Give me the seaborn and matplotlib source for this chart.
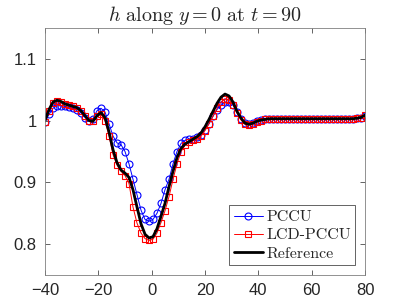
import numpy as np
import matplotlib.pyplot as plt
import seaborn as sns
import pandas as pd

# grid positions along y = 0
x = np.arange(-40, 80.01, 1.5)

reference = [1.000, 1.018, 1.030, 1.033, 1.031, 1.027, 1.025, 1.023, 1.021, 1.016,
             1.008, 1.000, 0.999, 1.008, 1.013, 1.005, 0.982, 0.953, 0.932, 0.920,
             0.915, 0.908, 0.888, 0.860, 0.833, 0.816, 0.810, 0.812, 0.825, 0.845,
             0.866, 0.893, 0.918, 0.940, 0.955, 0.962, 0.966, 0.970, 0.974, 0.980,
             0.990, 1.002, 1.015, 1.028, 1.038, 1.043, 1.040, 1.030, 1.015, 1.004,
             0.996, 0.994, 0.996, 0.999, 1.001, 1.002, 1.003, 1.003, 1.003, 1.003,
             1.003, 1.003, 1.003, 1.003, 1.003, 1.003, 1.003, 1.003, 1.003, 1.003,
             1.003, 1.003, 1.003, 1.003, 1.003, 1.003, 1.003, 1.003, 1.004, 1.005,
             1.009]

pccu = [0.998, 1.010, 1.020, 1.024, 1.024, 1.023, 1.022, 1.020, 1.018, 1.013,
        1.005, 1.000, 1.003, 1.016, 1.020, 1.014, 0.995, 0.975, 0.964, 0.961,
        0.950, 0.930, 0.905, 0.880, 0.855, 0.840, 0.837, 0.840, 0.850, 0.866,
        0.888, 0.905, 0.930, 0.950, 0.963, 0.968, 0.970, 0.971, 0.973, 0.977,
        0.985, 0.995, 1.007, 1.018, 1.026, 1.030, 1.030, 1.025, 1.014, 1.003,
        0.996, 0.994, 0.996, 0.999, 1.001, 1.002, 1.003, 1.003, 1.003, 1.003,
        1.003, 1.003, 1.003, 1.003, 1.003, 1.003, 1.003, 1.003, 1.003, 1.003,
        1.003, 1.003, 1.003, 1.003, 1.003, 1.003, 1.003, 1.003, 1.004, 1.005,
        1.008]

lcd_pccu = [0.998, 1.015, 1.028, 1.031, 1.030, 1.027, 1.025, 1.023, 1.021, 1.016,
            1.007, 1.000, 0.999, 1.007, 1.010, 1.000, 0.975, 0.945, 0.928, 0.918,
            0.911, 0.898, 0.860, 0.834, 0.818, 0.809, 0.806, 0.808, 0.818, 0.835,
            0.854, 0.877, 0.905, 0.930, 0.950, 0.960, 0.965, 0.968, 0.970, 0.975,
            0.984, 0.995, 1.007, 1.020, 1.030, 1.035, 1.034, 1.026, 1.012, 1.001,
            0.994, 0.993, 0.995, 0.998, 1.000, 1.002, 1.003, 1.003, 1.003, 1.003,
            1.003, 1.003, 1.003, 1.003, 1.003, 1.003, 1.003, 1.003, 1.003, 1.003,
            1.003, 1.003, 1.003, 1.003, 1.003, 1.003, 1.003, 1.003, 1.004, 1.005,
            1.009]

df = pd.DataFrame({'x': x, 'PCCU': pccu, 'LCD-PCCU': lcd_pccu, 'Reference': reference})

sns.set_theme(style='ticks')
plt.rcParams['font.family'] = ['Liberation Sans', 'DejaVu Sans']
plt.rcParams['mathtext.fontset'] = 'cm'

fig = plt.figure(figsize=(3.93, 3.06), dpi=100)
ax = fig.add_axes([0.1145, 0.1013, 0.8143, 0.8072])

sns.lineplot(data=df, x='x', y='PCCU', ax=ax, color='#0000ff', lw=0.7,
             marker='o', markersize=5, markerfacecolor='none',
             markeredgecolor='#0000ff', markeredgewidth=0.8, label='PCCU')
sns.lineplot(data=df, x='x', y='LCD-PCCU', ax=ax, color='#ff0000', lw=0.7,
             marker='s', markersize=4.5, markerfacecolor='none',
             markeredgecolor='#ff0000', markeredgewidth=0.8, label='LCD-PCCU')
sns.lineplot(data=df, x='x', y='Reference', ax=ax, color='black', lw=2,
             label='Reference')

ax.set_xlim(-40, 80)
ax.set_ylim(0.75, 1.15)
ax.set_xticks([-40, -20, 0, 20, 40, 60, 80])
ax.set_yticks([0.8, 0.9, 1.0, 1.1])
ax.set_yticklabels(['0.8', '0.9', '1', '1.1'])
ax.set_xlabel('')
ax.set_ylabel('')
ax.tick_params(direction='in', top=True, right=True, length=3.5, width=0.5,
               colors='#262626', labelsize=12, pad=6)
for s in ax.spines.values():
    s.set_linewidth(0.6)
    s.set_color('#808080')

ax.set_title(r'$h\ \mathrm{along}\ y=0\ \mathrm{at}\ t=90$', fontsize=14.5, pad=5)

leg = ax.legend(loc='lower right', prop={'family': 'cmr10', 'size': 11.5},
                fancybox=False, framealpha=1, edgecolor='#262626',
                handlelength=1.8, handletextpad=0.2, borderpad=0.3,
                labelspacing=0.25, borderaxespad=0.6)
leg.get_frame().set_linewidth(0.5)

fig.savefig('out.png', dpi=100)
